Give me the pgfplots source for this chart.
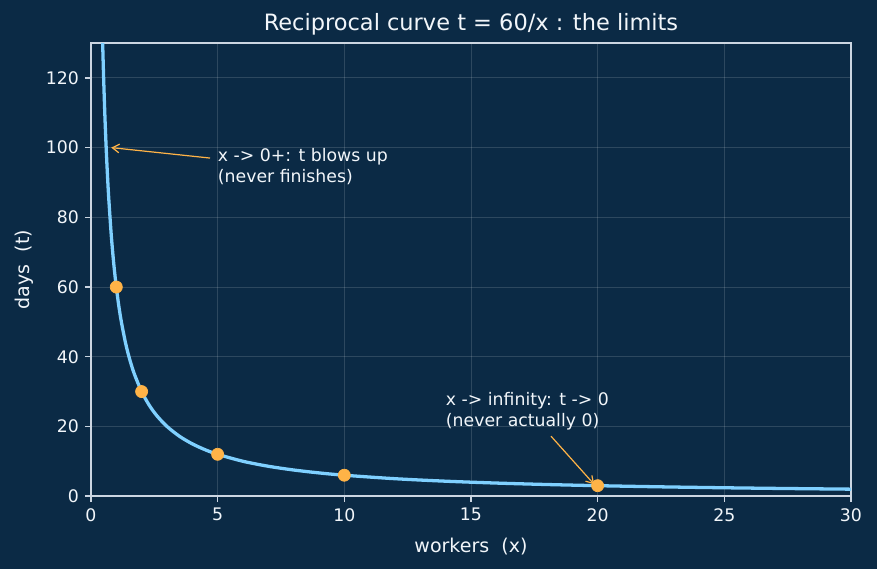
\documentclass[border=0pt]{standalone}
\usepackage{pgfplots}
\pgfplotsset{compat=1.18}
\usepackage{fontspec}
\setmainfont{DejaVu Sans}
\usetikzlibrary{backgrounds,calc,arrows.meta}
\definecolor{bg}{HTML}{0B2A45}
\definecolor{fg}{HTML}{F2F6FA}
\definecolor{spine}{HTML}{CCD6E2}
\definecolor{curve}{HTML}{7FD0FF}
\definecolor{dot}{HTML}{FFB347}
\begin{document}
\begin{tikzpicture}
\begin{axis}[name=ax, scale only axis, width=437.8bp, height=261bp,
  xmin=0, xmax=30, ymin=0, ymax=130,
  xtick={0,5,...,30}, ytick={0,20,...,120},
  axis line style={spine, line width=0.8pt},
  tick style={spine, line width=0.8pt},
  tick align=outside, major tick length=3.5pt,
  xtick pos=bottom, ytick pos=left,
  grid=major, grid style={white, opacity=0.14, line width=0.5pt},
  ticklabel style={font=\fontsize{10}{12}\selectfont, text=fg},
  /pgf/number format/assume math mode=true,
  xlabel={workers\ \ (x)}, ylabel={days\ \ (t)},
  label style={font=\fontsize{11}{13}\selectfont, text=fg},
  xlabel style={yshift=-2.5bp},
  title={Reciprocal curve t = 60/x : the limits},
  title style={font=\fontsize{13}{15}\selectfont, text=fg, yshift=-5bp},
  clip=true]
\addplot[curve, line width=1.9pt, smooth, tension=0.5] coordinates {
(0.4615,130) (0.5,120) (0.55,109.09) (0.6,100) (0.65,92.31) (0.7,85.714) (0.8,75) (0.9,66.667) (1,60)
(1.1,54.545) (1.2,50) (1.35,44.444) (1.5,40) (1.7,35.294) (2,30) (2.3,26.087) (2.6,23.077) (3,20) (3.5,17.143)
(4,15) (4.5,13.333) (5,12) (6,10) (7,8.571) (8,7.5) (9,6.667) (10,6) (12,5) (14,4.286)
(16,3.75) (18,3.333) (20,3) (22.5,2.667) (25,2.4) (27.5,2.182) (30,2)};
\addplot[only marks, mark=*, mark size=3.5pt, mark options={fill=dot, draw=dot}] coordinates {
(1,60) (2,30) (5,12) (10,6) (20,3)};
\draw[dot, line width=0.7pt, -{Straight Barb[length=4pt,width=5pt]}] (axis cs:4.7,97) -- (axis cs:0.8,100);
\draw[dot, line width=0.7pt, -{Straight Barb[length=4pt,width=5pt]}] (axis cs:18.16,17.2) -- (axis cs:19.86,3.4);
\node[anchor=base west, inner sep=0pt, text=fg, font=\fontsize{10}{12}\selectfont] at (axis cs:5,96) {x -> 0+: t blows up};
\node[anchor=base west, inner sep=0pt, text=fg, font=\fontsize{10}{12}\selectfont] at (axis cs:5,90) {(never finishes)};
\node[anchor=base west, inner sep=0pt, text=fg, font=\fontsize{10}{12}\selectfont] at (axis cs:14,26) {x -> infinity: t -> 0};
\node[anchor=base west, inner sep=0pt, text=fg, font=\fontsize{10}{12}\selectfont] at (axis cs:14,20) {(never actually 0)};
\end{axis}
\begin{scope}[on background layer]
\fill[bg] ($(ax.south west)+(-52.4bp,-42bp)$) rectangle ($(ax.north east)+(15bp,24.8bp)$);
\end{scope}
\end{tikzpicture}
\end{document}
